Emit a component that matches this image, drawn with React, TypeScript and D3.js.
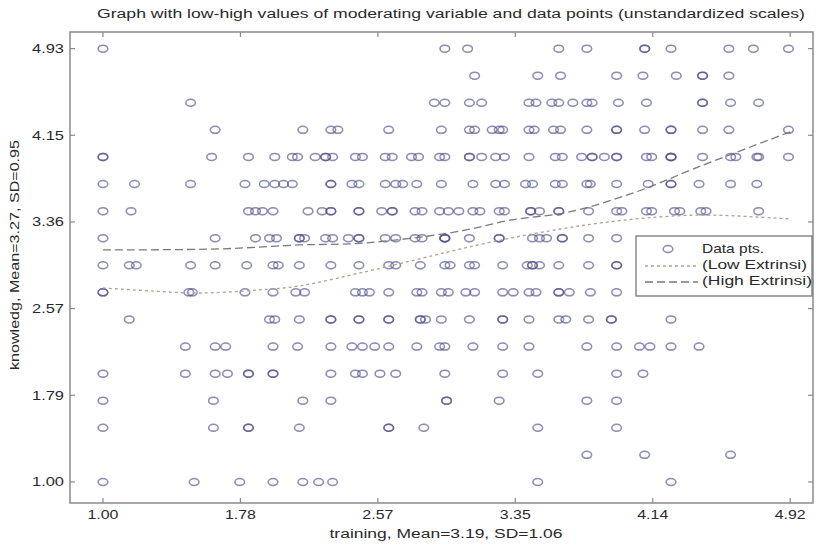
import React from 'react';
import * as d3 from 'd3';

const W = 822;
const H = 546;

const TITLE = 'Graph with low-high values of moderating variable and data points (unstandardized scales)';
const X_LABEL = 'training, Mean=3.19, SD=1.06';
const Y_LABEL = 'knowledg, Mean=3.27, SD=0.95';

const xTicks = [1.0, 1.784, 2.568, 3.352, 4.136, 4.92];
const xTickLabels = ['1.00', '1.78', '2.57', '3.35', '4.14', '4.92'];
const yTicks = [1.0, 1.7867, 2.5733, 3.36, 4.1467, 4.9333];
const yTickLabels = ['1.00', '1.79', '2.57', '3.36', '4.15', '4.93'];

// knowledge levels (rows of the scatter)
const yLevels = [1.0, 1.246, 1.492, 1.738, 1.983, 2.229, 2.475, 2.721, 2.967, 3.213, 3.458, 3.704, 3.95, 4.196, 4.442, 4.688, 4.933];

// training values for each knowledge level (repeated values = overlapping points)
const row00 = [1.0, 1.52, 1.78, 1.97, 2.14, 2.23, 2.31, 3.48, 4.24];
const row01 = [3.76, 4.09, 4.58];
const row02 = [1.0, 1.63, 1.83, 1.83, 2.12, 2.63, 2.63, 2.83, 3.48, 3.93];
const row03 = [1.0, 1.63, 2.14, 2.3, 2.96, 2.96, 3.26, 3.76, 3.93];
const row04 = [1.0, 1.47, 1.64, 1.71, 1.83, 1.83, 1.97, 1.97, 2.3, 2.44, 2.48, 2.58, 2.67, 2.95, 3.28, 3.48, 3.93, 4.08];
const row05 = [1.47, 1.64, 1.7, 1.97, 2.11, 2.3, 2.42, 2.48, 2.55, 2.63, 2.79, 2.92, 2.95, 3.11, 3.28, 3.43, 3.76, 3.93, 4.06, 4.12, 4.24, 4.4];
const row06 = [1.15, 1.95, 1.98, 2.12, 2.3, 2.3, 2.46, 2.46, 2.63, 2.63, 2.81, 2.81, 2.84, 2.93, 3.09, 3.28, 3.28, 3.43, 3.6, 3.64, 3.77, 3.9, 3.9, 4.24];
const row07 = [1.0, 1.0, 1.49, 1.51, 1.81, 1.97, 2.1, 2.15, 2.44, 2.48, 2.52, 2.63, 2.79, 2.82, 2.93, 2.97, 3.07, 3.12, 3.28, 3.34, 3.43, 3.47, 3.6, 3.6, 3.66, 3.78, 3.93];
const row08 = [1.0, 1.15, 1.19, 1.5, 1.64, 1.82, 1.97, 2.0, 2.12, 2.3, 2.46, 2.63, 2.67, 2.81, 2.95, 2.98, 3.09, 3.12, 3.28, 3.42, 3.45, 3.45, 3.49, 3.6, 3.77, 3.93, 3.93];
const row09 = [1.0, 1.64, 1.87, 1.95, 1.99, 2.12, 2.12, 2.15, 2.27, 2.31, 2.4, 2.46, 2.46, 2.61, 2.67, 2.78, 2.82, 2.95, 2.95, 2.95, 3.09, 3.26, 3.26, 3.45, 3.49, 3.53, 3.62, 3.62, 3.77, 3.93];
const row10 = [1.0, 1.16, 1.83, 1.87, 1.91, 1.97, 2.17, 2.25, 2.3, 2.3, 2.46, 2.46, 2.59, 2.65, 2.65, 2.78, 2.82, 2.92, 2.97, 3.03, 3.11, 3.15, 3.26, 3.29, 3.44, 3.44, 3.49, 3.6, 3.6, 3.77, 3.93, 3.96, 4.1, 4.13, 4.26, 4.29, 4.41, 4.44, 4.74];
const row11 = [1.0, 1.18, 1.5, 1.81, 1.92, 1.98, 2.03, 2.08, 2.3, 2.3, 2.42, 2.46, 2.61, 2.67, 2.71, 2.79, 2.93, 3.11, 3.24, 3.29, 3.41, 3.45, 3.58, 3.62, 3.76, 3.78, 3.93, 4.11, 4.24, 4.24, 4.4, 4.58, 4.73];
const row12 = [1.0, 1.0, 1.62, 1.83, 1.98, 2.08, 2.11, 2.21, 2.27, 2.27, 2.31, 2.44, 2.48, 2.61, 2.65, 2.76, 2.8, 2.92, 2.95, 3.09, 3.09, 3.16, 3.24, 3.29, 3.43, 3.58, 3.62, 3.73, 3.79, 3.79, 3.86, 3.93, 3.93, 4.1, 4.13, 4.24, 4.24, 4.24, 4.42, 4.58, 4.61, 4.73, 4.74, 4.91];
const row13 = [1.64, 2.14, 2.3, 2.34, 2.63, 2.93, 3.09, 3.12, 3.22, 3.26, 3.28, 3.43, 3.46, 3.57, 3.61, 3.76, 3.93, 3.93, 4.09, 4.24, 4.24, 4.42, 4.57, 4.91];
const row14 = [1.5, 2.89, 2.95, 3.09, 3.16, 3.43, 3.47, 3.56, 3.6, 3.68, 3.76, 3.79, 3.94, 4.1, 4.42, 4.42, 4.58, 4.74];
const row15 = [3.12, 3.48, 3.61, 3.93, 4.08, 4.27, 4.42, 4.42, 4.57];
const row16 = [1.0, 2.95, 3.08, 3.6, 3.76, 4.09, 4.09, 4.24, 4.57, 4.71, 4.91];

const rows = [row00, row01, row02, row03, row04, row05, row06, row07, row08, row09, row10, row11, row12, row13, row14, row15, row16];

// fitted curves
const lowX = [1.0, 1.27, 1.55, 1.89, 2.12, 2.49, 2.78, 3.04, 3.33, 3.61, 3.84, 4.1, 4.41, 4.73, 4.92];
const lowY = [2.761, 2.734, 2.715, 2.743, 2.779, 2.906, 3.015, 3.115, 3.215, 3.296, 3.351, 3.396, 3.423, 3.405, 3.387];
const highX = [1.0, 1.66, 2.12, 2.49, 3.01, 3.33, 3.66, 4.04, 4.41, 4.92];
const highY = [3.106, 3.115, 3.151, 3.169, 3.269, 3.378, 3.451, 3.632, 3.868, 4.177];

const legendLabels = ['Data pts.', '(Low Extrinsi)', '(High Extrinsi)'];

const FONT = 'Arial, "Liberation Sans", Helvetica, sans-serif';

export default function App() {
  const left = 70, right = 813, top = 32, bottom = 503;
  const x = d3.scaleLinear().domain([0.812, 5.05]).range([left, right]);
  const y = d3.scaleLinear().domain([0.809, 5.084]).range([bottom, top]);

  const points: { px: number; py: number }[] = [];
  rows.forEach((r, k) => r.forEach((v) => points.push({ px: x(v), py: y(yLevels[k]) })));

  const line = d3
    .line<[number, number]>()
    .x((d) => x(d[0]))
    .y((d) => y(d[1]))
    .curve(d3.curveCatmullRom.alpha(0.5));
  const lowPath = line(lowX.map((v, i) => [v, lowY[i]]) as [number, number][]) || '';
  const highPath = line(highX.map((v, i) => [v, highY[i]]) as [number, number][]) || '';

  const axisColor = '#8a8a8a';
  const textColor = '#2a2a2a';
  const lowColor = '#aaa58e';
  const highColor = '#7a7a7a';
  const tl = 5;

  const lg = { x: 636, y: 236, w: 176, h: 60 };

  const Marker = ({ cx, cy }: { cx: number; cy: number }) => (
    <g>
      <ellipse cx={cx} cy={cy} rx={4.8} ry={3.5} fill="none" stroke="#707070" strokeOpacity={0.5} strokeWidth={1.5} />
      <ellipse cx={cx} cy={cy} rx={4.8} ry={3.5} fill="none" stroke="#1e1eb4" strokeOpacity={0.27} strokeWidth={1.5} />
    </g>
  );

  return (
    <svg width={W} height={H} style={{ position: 'absolute', left: 0, top: 0, background: '#fff' }} fontFamily={FONT}>
      <rect x={0} y={0} width={W} height={H} fill="#fff" />
      <text x={451} y={18} fontSize={12.5} fill={textColor} textAnchor="middle" textLength={708} lengthAdjust="spacingAndGlyphs">
        {TITLE}
      </text>

      {/* data points */}
      <g>
        {points.map((p, i) => (
          <Marker key={i} cx={p.px} cy={p.py} />
        ))}
      </g>

      {/* curves */}
      <path d={lowPath} fill="none" stroke={lowColor} strokeWidth={1.3} strokeDasharray="3,3" />
      <path d={highPath} fill="none" stroke={highColor} strokeWidth={1.3} strokeDasharray="8,4" />

      {/* axes box */}
      <rect x={left} y={top} width={right - left} height={bottom - top} fill="none" stroke={axisColor} strokeWidth={1.5} />
      {xTicks.map((t, i) => (
        <g key={'xt' + i}>
          <line x1={x(t)} x2={x(t)} y1={bottom} y2={bottom - tl} stroke={axisColor} strokeWidth={1.2} />
          <line x1={x(t)} x2={x(t)} y1={top} y2={top + tl} stroke={axisColor} strokeWidth={1.2} />
          <text x={x(t)} y={519} fontSize={13} fill={textColor} textAnchor="middle" textLength={31} lengthAdjust="spacingAndGlyphs">
            {xTickLabels[i]}
          </text>
        </g>
      ))}
      {yTicks.map((t, i) => (
        <g key={'yt' + i}>
          <line x1={left} x2={left + tl} y1={y(t)} y2={y(t)} stroke={axisColor} strokeWidth={1.2} />
          <line x1={right} x2={right - tl} y1={y(t)} y2={y(t)} stroke={axisColor} strokeWidth={1.2} />
          <text x={64} y={y(t) + 4.5} fontSize={13} fill={textColor} textAnchor="end" textLength={32} lengthAdjust="spacingAndGlyphs">
            {yTickLabels[i]}
          </text>
        </g>
      ))}

      <text x={446} y={538} fontSize={12.5} fill={textColor} textAnchor="middle" textLength={233} lengthAdjust="spacingAndGlyphs">
        {X_LABEL}
      </text>
      <text
        transform={`translate(19, 255) rotate(-90)`}
        fontSize={12.5}
        fill={textColor}
        textAnchor="middle"
        textLength={230}
        lengthAdjust="spacingAndGlyphs"
      >
        {Y_LABEL}
      </text>

      {/* legend */}
      <rect x={lg.x} y={lg.y} width={lg.w} height={lg.h} fill="#fff" stroke="#777" strokeWidth={1.3} />
      <Marker cx={668} cy={249} />
      <line x1={645} x2={698} y1={266} y2={266} stroke={lowColor} strokeWidth={1.3} strokeDasharray="3,3" />
      <line x1={645} x2={698} y1={282} y2={282} stroke={highColor} strokeWidth={1.3} strokeDasharray="8,4" />
      {legendLabels.map((s, i) => (
        <text key={s} x={702} y={253 + i * 16} fontSize={13} fill={textColor} textLength={[62, 105, 110][i]} lengthAdjust="spacingAndGlyphs">
          {s}
        </text>
      ))}
    </svg>
  );
}
